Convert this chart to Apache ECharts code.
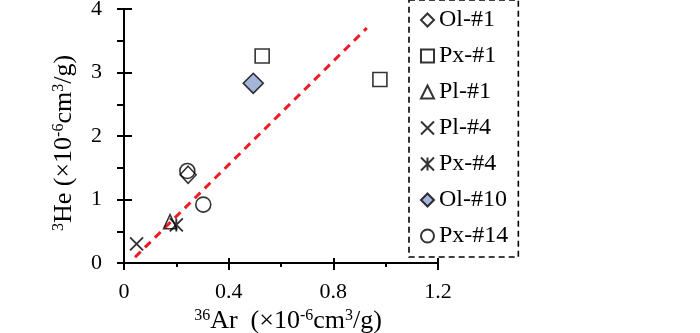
<!DOCTYPE html>
<html>
<head>
<meta charset="utf-8">
<script src="https://cdn.jsdelivr.net/npm/echarts@6/dist/echarts.min.js"></script>
<style>
html, body { margin: 0; padding: 0; background: #fff; }
#chart { width: 700px; height: 333px; }
</style>
</head>
<body>
<div id="chart"></div>
<script>
// 36Ar vs 3He (x10^-6 cm3/g)
var names = ['Ol-#1', 'Px-#1', 'Pl-#1', 'Pl-#4', 'Px-#4', 'Ol-#10', 'Px-#14'];
var ol1 = [[0.245, 1.39]];
var px1 = [[0.528, 3.26], [0.978, 2.89]];
var pl1 = [[0.176, 0.65]];
var pl4 = [[0.048, 0.30]];
var px4 = [[0.20, 0.60]];
var ol10 = [[0.494, 2.83]];
var px14 = [[0.242, 1.45], [0.303, 0.92]];
var fitLine = [[0.042, 0.09], [0.928, 3.70]];
var xTicks = [0, 0.4, 0.8, 1.2];
var yTicks = [0, 1, 2, 3, 4];

var FONT = 'Liberation Serif';
var crossPath = 'path://M0,0L10,10M10,0L0,10';
var starPath = 'path://M0,0L10,10M10,0L0,10M5,0L5,10';

function openStyle() {
    return { color: 'rgba(255,255,255,0)', borderColor: '#000', borderWidth: 1.6 };
}
function strokeStyle() {
    return { color: 'rgba(255,255,255,0)', borderColor: '#000', borderWidth: 1.9 };
}

var supStyle = { fontSize: 16, fontFamily: FONT, color: '#000', verticalAlign: 'top', lineHeight: 26 };
var baseStyle = { fontSize: 26, fontFamily: FONT, color: '#000', lineHeight: 26 };

var mychart = echarts.init(document.getElementById('chart'));
var option = {
    backgroundColor: '#fff',
    animation: false,
    grid: { left: 124, top: 9, right: 262, bottom: 70, outerBoundsMode: 'none' },
    legend: {
        orient: 'vertical',
        left: 409,
        top: 0,
        padding: [8, 10, 9, 11],
        itemGap: 12,
        itemWidth: 13,
        itemHeight: 13,
        borderColor: '#000',
        borderWidth: 1.6,
        borderType: [6, 4],
        textStyle: { fontFamily: FONT, fontSize: 24, color: '#000' },
        data: names
    },
    xAxis: [
        {
            type: 'value',
            min: 0, max: 1.2, interval: 0.4,
            position: 'bottom',
            name: '{sup|36}{b|Ar  (×10}{sup|-6}{b|cm}{sup|3}{b|/g)}',
            nameLocation: 'middle',
            nameGap: 44,
            nameTextStyle: { padding: [0, 0, 0, 14], rich: { sup: supStyle, b: baseStyle } },
            axisLine: { onZero: false, lineStyle: { color: '#000', width: 2 } },
            axisTick: { show: true, length: 7, lineStyle: { color: '#000', width: 2 } },
            minorTick: { show: true, splitNumber: 2, length: 4, lineStyle: { color: '#000', width: 2 } },
            axisLabel: {
                margin: 18, color: '#000', fontFamily: FONT, fontSize: 22,
                formatter: function (v) { return xTicks.indexOf(v) >= 0 ? String(v) : ''; }
            },
            splitLine: { show: false }
        },
        {
            type: 'value',
            min: 0, max: 1.2, interval: 0.4,
            position: 'bottom',
            axisLine: { show: false, onZero: false },
            axisTick: { show: true, inside: true, length: 5, lineStyle: { color: '#000', width: 2 } },
            axisLabel: { show: false },
            splitLine: { show: false }
        }
    ],
    yAxis: [
        {
            type: 'value',
            min: 0, max: 4, interval: 1,
            position: 'left',
            name: '{sup|3}{b|He (×10}{sup|-6}{b|cm}{sup|3}{b|/g)}',
            nameLocation: 'middle',
            nameGap: 47,
            nameRotate: 90,
            nameTextStyle: { padding: [0, 14, 0, 0], rich: { sup: supStyle, b: baseStyle } },
            axisLine: { onZero: false, lineStyle: { color: '#000', width: 2 } },
            axisTick: { show: true, length: 7, lineStyle: { color: '#000', width: 2 } },
            minorTick: { show: true, splitNumber: 2, length: 7, lineStyle: { color: '#000', width: 2 } },
            axisLabel: {
                margin: 22, color: '#000', fontFamily: FONT, fontSize: 22,
                formatter: function (v) { return yTicks.indexOf(v) >= 0 ? String(v) : ''; }
            },
            splitLine: { show: false }
        },
        {
            type: 'value',
            min: 0, max: 4, interval: 1,
            position: 'left',
            axisLine: { show: false, onZero: false },
            axisTick: { show: true, inside: true, length: 8, lineStyle: { color: '#000', width: 2 } },
            axisLabel: { show: false },
            splitLine: { show: false }
        }
    ],
    series: [
        {
            name: 'fit', type: 'line', data: fitLine, symbol: 'none', z: 1,
            lineStyle: { color: '#ee1c24', width: 3, type: [8, 6] }
        },
        { name: 'Ol-#1', type: 'scatter', data: ol1, symbol: 'diamond', symbolSize: [16, 17], itemStyle: openStyle(), z: 3 },
        { name: 'Px-#1', type: 'scatter', data: px1, symbol: 'rect', symbolSize: 14, itemStyle: openStyle(), z: 3 },
        { name: 'Pl-#1', type: 'scatter', data: pl1, symbol: 'triangle', symbolSize: [13, 14], itemStyle: openStyle(), z: 3 },
        { name: 'Pl-#4', type: 'scatter', data: pl4, symbol: crossPath, symbolSize: 13, itemStyle: strokeStyle(), z: 3 },
        { name: 'Px-#4', type: 'scatter', data: px4, symbol: starPath, symbolSize: 13, itemStyle: strokeStyle(), z: 3 },
        { name: 'Ol-#10', type: 'scatter', data: ol10, symbol: 'diamond', symbolSize: [20, 20], itemStyle: { color: '#8ea3d1', borderColor: '#000', borderWidth: 1.6 }, z: 3 },
        { name: 'Px-#14', type: 'scatter', data: px14, symbol: 'circle', symbolSize: 15, itemStyle: openStyle(), z: 3 }
    ]
};
mychart.setOption(option);
window.addEventListener('resize', function () {
    mychart.resize();
});
</script>
</body>
</html>
